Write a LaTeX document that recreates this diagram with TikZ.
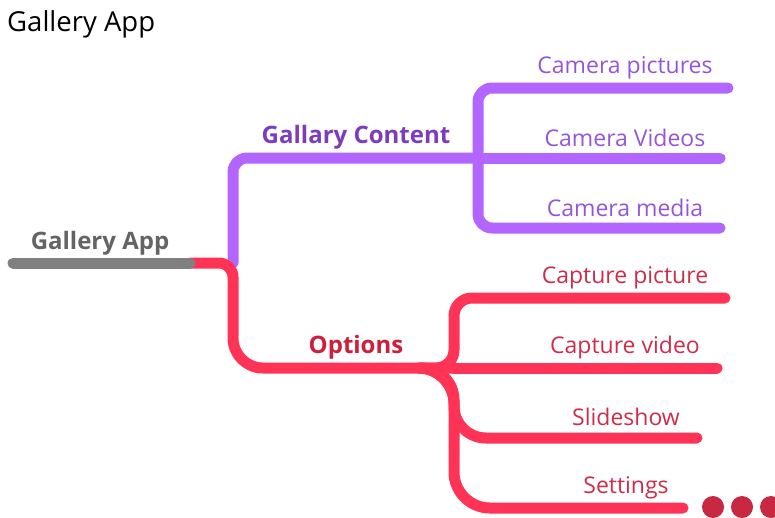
\documentclass[tikz,border=0pt]{standalone}
\usepackage{fontspec}
\setmainfont{Open Sans}
\definecolor{purp}{RGB}{178,102,255}
\definecolor{purptxt}{RGB}{150,85,215}
\definecolor{purpbold}{RGB}{125,60,190}
\definecolor{redl}{RGB}{255,51,85}
\definecolor{redtxt}{RGB}{205,45,75}
\definecolor{redbold}{RGB}{205,30,60}
\definecolor{dotred}{RGB}{200,40,65}
\definecolor{grayl}{RGB}{128,128,128}
\definecolor{graytxt}{RGB}{100,100,100}
\tikzset{
  branch/.style={line width=11pt,line cap=round,line join=round},
  sublabel/.style={font=\fontsize{23}{26}\selectfont,inner sep=0pt},
  mainlabel/.style={font=\fontsize{24}{26}\selectfont\bfseries,inner sep=0pt}
}
\begin{document}
\begin{tikzpicture}[x=1pt,y=-1pt]
\useasboundingbox (0,0) rectangle (775,517);
% title
\node[anchor=west,inner sep=0pt,font=\fontsize{27.5}{30}\selectfont] (title) at (7,24) {Gallery App};
% coordinates
\coordinate (g0) at (13,263);
\coordinate (g1) at (190,263);
\coordinate (rc) at (233,263);
\coordinate (pj) at (478,158);
\coordinate (rj) at (454,368);
\coordinate (p1) at (728,88);
\coordinate (p2) at (720,158);
\coordinate (p3) at (720,228);
\coordinate (r1) at (725,298);
\coordinate (r2) at (717,368);
\coordinate (r3) at (697,438);
\coordinate (r4) at (683,508);
% purple
\draw[branch,purp,rounded corners=14pt] (rc) -- (233,158) -- (pj);
\draw[branch,purp,rounded corners=14pt] (pj) -- (478,88) -- (p1);
\draw[branch,purp] (pj) -- (p2);
\draw[branch,purp,rounded corners=14pt] (pj) -- (478,228) -- (p3);
% red
\draw[branch,redl] (g1) [rounded corners=14pt] -- (rc) [rounded corners=30pt] -- (233,368) -- (rj);
\draw[branch,redl,rounded corners=18pt] (420,368) -- (454,368) -- (454,298) -- (r1);
\draw[branch,redl] (rj) -- (r2);
\draw[branch,redl,rounded corners=32pt] (420,368) -- (454,368) -- (454,438) -- (r3);
\draw[branch,redl,rounded corners=36pt] (420,368) -- (454,368) -- (454,508) -- (r4);
% gray
\draw[branch,grayl] (g0) -- (g1);
% dots
\fill[dotred] (713,507) circle (11pt);
\fill[dotred] (742,507) circle (11pt);
\fill[dotred] (771,507) circle (11pt);
% labels
\node[mainlabel,graytxt] (root) at (100,243) {Gallery App};
\node[mainlabel,purpbold] (gc) at (356,137) {Gallary Content};
\node[mainlabel,redbold] (opt) at (356,347) {Options};
\node[sublabel,purptxt] (cp) at (625,68) {Camera pictures};
\node[sublabel,purptxt] (cv) at (625,138) {Camera Videos};
\node[sublabel,purptxt] (cm) at (625,208) {Camera media};
\node[sublabel,redtxt] (cpi) at (625,278) {Capture picture};
\node[sublabel,redtxt] (cvi) at (625,348) {Capture video};
\node[sublabel,redtxt] (ss) at (626,417) {Slideshow};
\node[sublabel,redtxt] (st) at (626,488) {Settings};
\end{tikzpicture}
\end{document}
